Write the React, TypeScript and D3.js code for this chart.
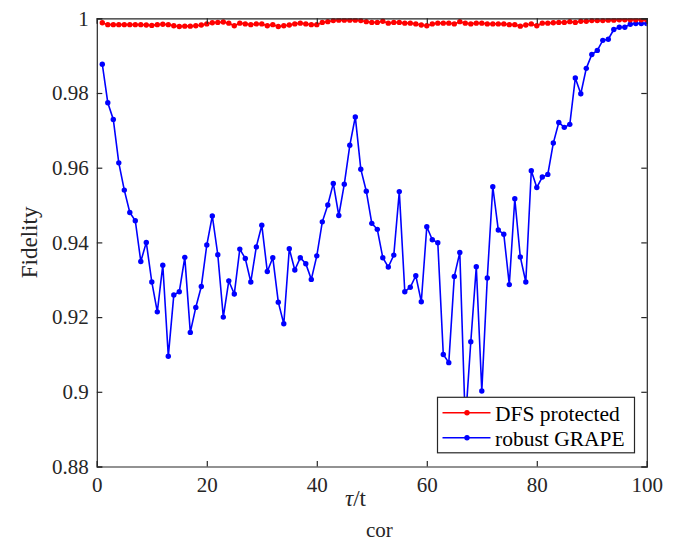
import { useRef, useEffect } from 'react';
import * as d3 from 'd3';

// tau / t_cor, 1..100
const steps = d3.range(1, 101);

const dfsProtected = [
  0.9988, 0.9983, 0.9983, 0.9983, 0.9983, 0.9983, 0.9983, 0.9983, 0.9982, 0.9981,
  0.9983, 0.9984, 0.9983, 0.9980, 0.9978, 0.9979, 0.9979, 0.9980, 0.9982, 0.9985,
  0.9988, 0.9989, 0.9990, 0.9987, 0.9980, 0.9987, 0.9985, 0.9983, 0.9985, 0.9985,
  0.9980, 0.9983, 0.9978, 0.9980, 0.9982, 0.9985, 0.9987, 0.9985, 0.9983, 0.9983,
  0.9989, 0.9991, 0.9994, 0.9995, 0.9995, 0.9995, 0.9995, 0.9994, 0.9991, 0.9989,
  0.9989, 0.9992, 0.9987, 0.9989, 0.9989, 0.9987, 0.9987, 0.9985, 0.9982, 0.9980,
  0.9985, 0.9987, 0.9987, 0.9987, 0.9985, 0.9991, 0.9987, 0.9985, 0.9987, 0.9987,
  0.9985, 0.9985, 0.9985, 0.9985, 0.9983, 0.9983, 0.9979, 0.9982, 0.9985, 0.9980,
  0.9987, 0.9987, 0.9988, 0.9989, 0.9989, 0.9991, 0.9989, 0.9992, 0.9992, 0.9994,
  0.9994, 0.9994, 0.9995, 0.9995, 0.9996, 0.9996, 0.9996, 0.9996, 0.9996, 0.9996,
];

const robustGrape = [
  0.9877, 0.9774, 0.9729, 0.9613, 0.9540, 0.9480, 0.9458, 0.9349, 0.9400, 0.9294,
  0.9214, 0.9339, 0.9095, 0.9259, 0.9268, 0.9360, 0.9159, 0.9226, 0.9282, 0.9393,
  0.9471, 0.9367, 0.9200, 0.9297, 0.9262, 0.9382, 0.9357, 0.9294, 0.9388, 0.9446,
  0.9322, 0.9359, 0.9240, 0.9182, 0.9383, 0.9326, 0.9359, 0.9343, 0.9301, 0.9364,
  0.9455, 0.9500, 0.9558, 0.9472, 0.9556, 0.9660, 0.9736, 0.9596, 0.9537, 0.9451,
  0.9435, 0.9359, 0.9334, 0.9366, 0.9536, 0.9268, 0.9280, 0.9311, 0.9241, 0.9442,
  0.9407, 0.9399, 0.9100, 0.9078, 0.9309, 0.9373, 0.8915, 0.9134, 0.9335, 0.9002,
  0.9305, 0.9549, 0.9433, 0.9422, 0.9287, 0.9517, 0.9361, 0.9294, 0.9592, 0.9547,
  0.9575, 0.9582, 0.9666, 0.9721, 0.9708, 0.9716, 0.9840, 0.9798, 0.9866, 0.9903,
  0.9914, 0.9941, 0.9944, 0.9970, 0.9976, 0.9976, 0.9984, 0.9986, 0.9986, 0.9986,
];

const series = [
  { name: 'DFS protected', values: dfsProtected, color: '#ff0000' },
  { name: 'robust GRAPE', values: robustGrape, color: '#0000ff' },
];

const xTicks = [0, 20, 40, 60, 80, 100];
const yTicks = [0.88, 0.9, 0.92, 0.94, 0.96, 0.98, 1];

export default function App() {
  const svgRef = useRef(null);

  const width = 682;
  const height = 545;
  const margin = { top: 18.3, right: 35.2, bottom: 78.5, left: 96.8 };
  const font = 'Liberation Serif, Times New Roman, DejaVu Serif, serif';

  useEffect(() => {
    const svg = d3.select(svgRef.current);
    svg.selectAll('*').remove();

    const x = d3.scaleLinear().domain([0, 100]).range([margin.left, width - margin.right]);
    const y = d3.scaleLinear().domain([0.88, 1]).range([height - margin.bottom, margin.top]);

    const clipId = 'plot-clip';
    svg.append('defs').append('clipPath').attr('id', clipId)
      .append('rect')
      .attr('x', margin.left)
      .attr('y', margin.top)
      .attr('width', x(100) - x(0))
      .attr('height', y(0.88) - y(1));

    const plot = svg.append('g').attr('clip-path', `url(#${clipId})`);

    const line = d3.line<number>()
      .x((d, i) => x(steps[i]))
      .y(d => y(d));

    // blue first, red on top
    series.slice().reverse().forEach(s => {
      plot.append('path')
        .datum(s.values)
        .attr('d', line)
        .attr('fill', 'none')
        .attr('stroke', s.color)
        .attr('stroke-width', 1.6);

      plot.selectAll(null)
        .data(s.values)
        .enter()
        .append('circle')
        .attr('cx', (d, i) => x(steps[i]))
        .attr('cy', d => y(d))
        .attr('r', 2.7)
        .attr('fill', s.color);
    });

    const tickLen = 5.5;
    const tickFmt = (d: number) => String(+d.toFixed(2));

    const bottom = svg.append('g')
      .attr('transform', `translate(0,${y(0.88)})`)
      .call(d3.axisBottom(x).tickValues(xTicks).tickSize(-tickLen).tickPadding(11).tickFormat(d => String(d)));
    const top = svg.append('g')
      .attr('transform', `translate(0,${y(1)})`)
      .call(d3.axisTop(x).tickValues(xTicks).tickSize(-tickLen).tickFormat(() => ''));
    const left = svg.append('g')
      .attr('transform', `translate(${x(0)},0)`)
      .call(d3.axisLeft(y).tickValues(yTicks).tickSize(-tickLen).tickPadding(8).tickFormat(d => tickFmt(d as number)));
    const right = svg.append('g')
      .attr('transform', `translate(${x(100)},0)`)
      .call(d3.axisRight(y).tickValues(yTicks).tickSize(-tickLen).tickFormat(() => ''));

    [bottom, top, left, right].forEach(g => {
      g.attr('font-family', null).attr('font-size', null);
      g.select('.domain').attr('stroke', '#262626').attr('stroke-width', 1.2);
      g.selectAll('.tick line').attr('stroke', '#262626').attr('stroke-width', 1.2);
      g.selectAll('text')
        .style('font-family', font)
        .style('font-size', '21px')
        .attr('fill', '#262626');
    });

    // axis labels
    svg.append('text')
      .attr('transform', `translate(37,${(y(0.88) + y(1)) / 2}) rotate(-90)`)
      .attr('text-anchor', 'middle')
      .style('font-family', font)
      .style('font-size', '23px')
      .attr('fill', '#262626')
      .text('Fidelity');

    const xl = svg.append('text')
      .attr('x', 345)
      .attr('y', 506)
      .style('font-family', font)
      .style('font-size', '23px')
      .attr('fill', '#262626');
    xl.append('tspan').attr('font-style', 'italic').text('τ');
    xl.append('tspan').text('/t');
    xl.append('tspan').attr('dy', 31).style('font-size', '21px').text('cor');

    // legend
    const lx = 437.5, ly = 397.3, lw = 197, lh = 55.5;
    const legend = svg.append('g');
    legend.append('rect')
      .attr('x', lx).attr('y', ly).attr('width', lw).attr('height', lh)
      .attr('fill', '#ffffff')
      .attr('stroke', '#262626')
      .attr('stroke-width', 1.2);
    series.forEach((s, i) => {
      const cy = ly + 15.4 + i * 25;
      legend.append('line')
        .attr('x1', lx + 5).attr('x2', lx + 53)
        .attr('y1', cy).attr('y2', cy)
        .attr('stroke', s.color).attr('stroke-width', 1.6);
      legend.append('circle')
        .attr('cx', lx + 29.5).attr('cy', cy).attr('r', 2.7).attr('fill', s.color);
      legend.append('text')
        .attr('x', lx + 57.5).attr('y', cy + 8)
        .style('font-family', font)
        .style('font-size', '21.5px')
        .attr('fill', '#000')
        .text(s.name);
    });
  }, []);

  return (
    <svg ref={svgRef} width={width} height={height}
      style={{ position: 'absolute', left: 0, top: 0, background: '#fff' }} />
  );
}
